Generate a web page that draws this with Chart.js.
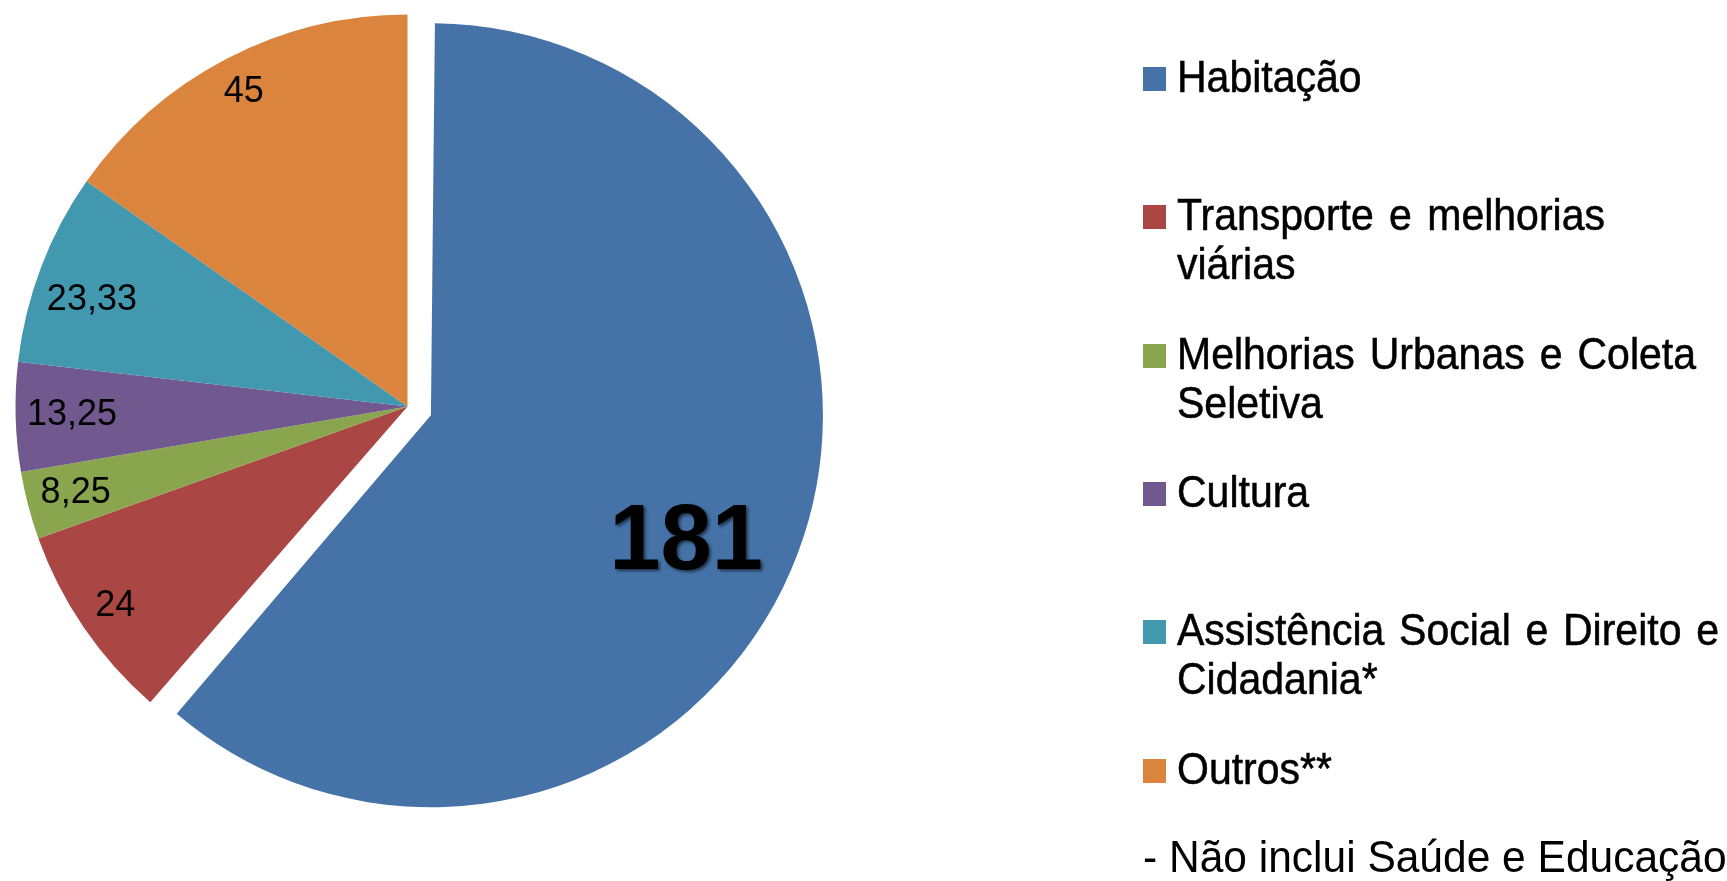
<!DOCTYPE html>
<html lang="pt-BR">
<head>
<meta charset="UTF-8">
<title>pie_investimentos</title>
<script src="https://cdn.jsdelivr.net/npm/chart.js@4.4.0/dist/chart.umd.min.js"></script>
<style>
    html, body { margin:0; padding:0; background:#fff; overflow:hidden; }
    #wrap { position:relative; width:1727px; height:881px; font-family: Arial, "Liberation Sans", sans-serif; color:#000; }
    #pieChart { position:absolute; left:0; top:0; }
    .legend-item { position:absolute; left:1143px; }
    .legend-item .box { position:absolute; left:0; top:14px; width:23px; height:24px; }
    .legend-item .line { position:absolute; left:34px; height:49px; line-height:49px; font-size:41px; white-space:nowrap;
        transform:scaleY(1.08); transform-origin:0 50%; -webkit-text-stroke:0.5px #000; }
    .legend-item .line.just { text-align:justify; text-align-last:justify; }
    #note { position:absolute; left:1143px; top:832px; font-size:42.5px; line-height:49px; white-space:nowrap;
        transform:scaleY(1.05); transform-origin:0 50%; }
</style>
</head>
<body>
<div id="wrap">
    <canvas id="pieChart" width="1727" height="881"></canvas>
    <div id="legend"></div>
    <div id="note">- Não inclui Saúde e Educação</div>
</div>

<script>
// dados
const categories = [
    ['Habitação'],
    ['Transporte e melhorias', 'viárias'],
    ['Melhorias Urbanas e Coleta', 'Seletiva'],
    ['Cultura'],
    ['Assistência Social e Direito e', 'Cidadania*'],
    ['Outros**']
];
const values = [181, 24, 8.25, 13.25, 23.33, 45];
const colors = ['#4572A7', '#AA4643', '#89A54E', '#71588F', '#4198AF', '#DB843D'];

// estilo dos rótulos (posição relativa ao raio)
const labelRadius = [0.729, 0.903, 0.875, 0.856, 0.850, 0.905];
const labelShift = [6.25, 0, 0, 0, -2.1, 0]; // graus
const legendLineWidth = [[], [428], [519], [], [542], []];

const explode = 100; // chart.js divide por 4 no desenho

// legenda em html
const legend = document.querySelector('#legend');
categories.forEach(function(lines, i){
    const item = document.createElement('div');
    item.className = 'legend-item';
    item.style.top = (53 + i * 138.3) + 'px';
    const box = document.createElement('div');
    box.className = 'box';
    box.style.background = colors[i];
    item.appendChild(box);
    lines.forEach(function(txt, j){
        const line = document.createElement('div');
        line.className = 'line';
        line.style.top = (j * 49) + 'px';
        const w = legendLineWidth[i][j];
        if (w) {
            line.className += ' just';
            line.style.width = w + 'px';
        }
        line.textContent = txt;
        item.appendChild(line);
    });
    legend.appendChild(item);
});

// corrige o raio da fatia destacada (chart.js aumenta o raio junto com o offset)
const explodeFix = {
    id:'explodeFix',
    beforeDatasetsDraw:function(chart){
        const meta = chart.getDatasetMeta(0);
        const base = meta.controller.outerRadius;
        meta.data.forEach(function(arc){
            const o = (arc.options.offset || 0) / 4;
            const circ = arc.endAngle - arc.startAngle;
            const fix = 1 - Math.sin(Math.min(Math.PI, circ));
            arc.outerRadius = base - o * fix;
        });
    }
};

// rótulos de valores
const valueLabels = {
    id:'valueLabels',
    afterDatasetsDraw:function(chart){
        const ctx = chart.ctx;
        const meta = chart.getDatasetMeta(0);
        const base = meta.controller.outerRadius;
        meta.data.forEach(function(arc, i){
            const o = (arc.options.offset || 0) / 4;
            const mid = (arc.startAngle + arc.endAngle) / 2;
            const a = mid + labelShift[i] * Math.PI / 180;
            const cx = arc.x + Math.cos(mid) * o;
            const cy = arc.y + Math.sin(mid) * o;
            const x = cx + Math.cos(a) * base * labelRadius[i];
            const y = cy + Math.sin(a) * base * labelRadius[i];
            const txt = String(values[i]).replace('.', ',');

            ctx.save();
            ctx.textAlign = 'center';
            ctx.textBaseline = 'middle';
            ctx.fillStyle = '#000';
            if (i === 0) {
                ctx.font = 'bold 92px Arial, "Liberation Sans", sans-serif';
                ctx.shadowColor = 'rgba(0,0,0,0.55)';
                ctx.shadowOffsetX = 2;
                ctx.shadowOffsetY = 2;
                ctx.shadowBlur = 3;
            } else {
                ctx.font = '36px Arial, "Liberation Sans", sans-serif';
            }
            ctx.fillText(txt, x, y);
            ctx.restore();
        });
    }
};

const config = {
    type:'pie',
    data:{
        labels:categories,
        datasets:[
            {
                data:values,
                backgroundColor:colors,
                borderWidth:0,
                offset:values.map(function(v, i){ return i === 0 ? explode : 0; }),
                hoverOffset:0
            }
        ]
    },
    options:{
        responsive:false,
        animation:false,
        devicePixelRatio:1,
        radius:392,
        events:[],
        layout:{
            padding:{ left:0, top:0, right:912, bottom:68 }
        },
        plugins:{
            legend:{ display:false },
            tooltip:{ enabled:false }
        }
    },
    plugins:[explodeFix, valueLabels]
};

const ctx = document.querySelector('#pieChart').getContext('2d');
const pieChart = new Chart(ctx, config);
</script>
</body>
</html>
